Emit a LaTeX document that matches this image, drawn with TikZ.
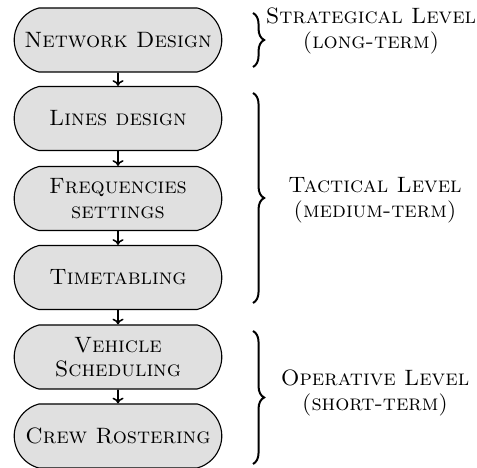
\documentclass[tikz,border=0pt]{standalone}
\usetikzlibrary{shapes.misc,decorations.pathreplacing,arrows.meta}
\begin{document}
\begin{tikzpicture}[x=0.45pt,y=-0.45pt,
  stage/.style={rounded rectangle, rounded rectangle arc length=150, draw, line width=0.5pt,
    fill=black!12, minimum width=212*0.45pt, minimum height=64*0.45pt, inner sep=1pt,
    align=center, font=\scshape},
  flow/.style={-{To[length=2.6pt,width=5pt]}, line width=0.7pt},
  lvlbrace/.style={decorate, decoration={brace, amplitude=5pt}, line width=0.9pt},
  lvltext/.style={align=center, font=\scshape}]
\useasboundingbox (0,0) rectangle (477,468);
\node[stage] (nd) at (118,40) {Network Design};
\node[stage] (ld) at (118,118.5) {Lines design};
\node[stage] (fs) at (118,198.5) {Frequencies\\[-1pt]settings};
\node[stage] (tt) at (118,277.5) {Timetabling};
\node[stage] (vs) at (118,357) {Vehicle\\[-1pt]Scheduling};
\node[stage] (cr) at (118,436) {Crew Rostering};
\draw[flow] (nd) -- (ld);
\draw[flow] (ld) -- (fs);
\draw[flow] (fs) -- (tt);
\draw[flow] (tt) -- (vs);
\draw[flow] (vs) -- (cr);
\coordinate (s1) at (253,13);
\coordinate (s2) at (253,67);
\coordinate (t1) at (253,93);
\coordinate (t2) at (253,303);
\coordinate (o1) at (253,331);
\coordinate (o2) at (253,464);
\draw[lvlbrace] (s1) -- (s2);
\draw[lvlbrace] (t1) -- (t2);
\draw[lvlbrace] (o1) -- (o2);
\node[lvltext] (sl) at (371,31) {Strategical Level\\[-1pt](long-term)};
\node[lvltext] (tl) at (375,200) {Tactical Level\\[-1pt](medium-term)};
\node[lvltext] (ol) at (375,393) {Operative Level\\[-1pt](short-term)};
\end{tikzpicture}
\end{document}
